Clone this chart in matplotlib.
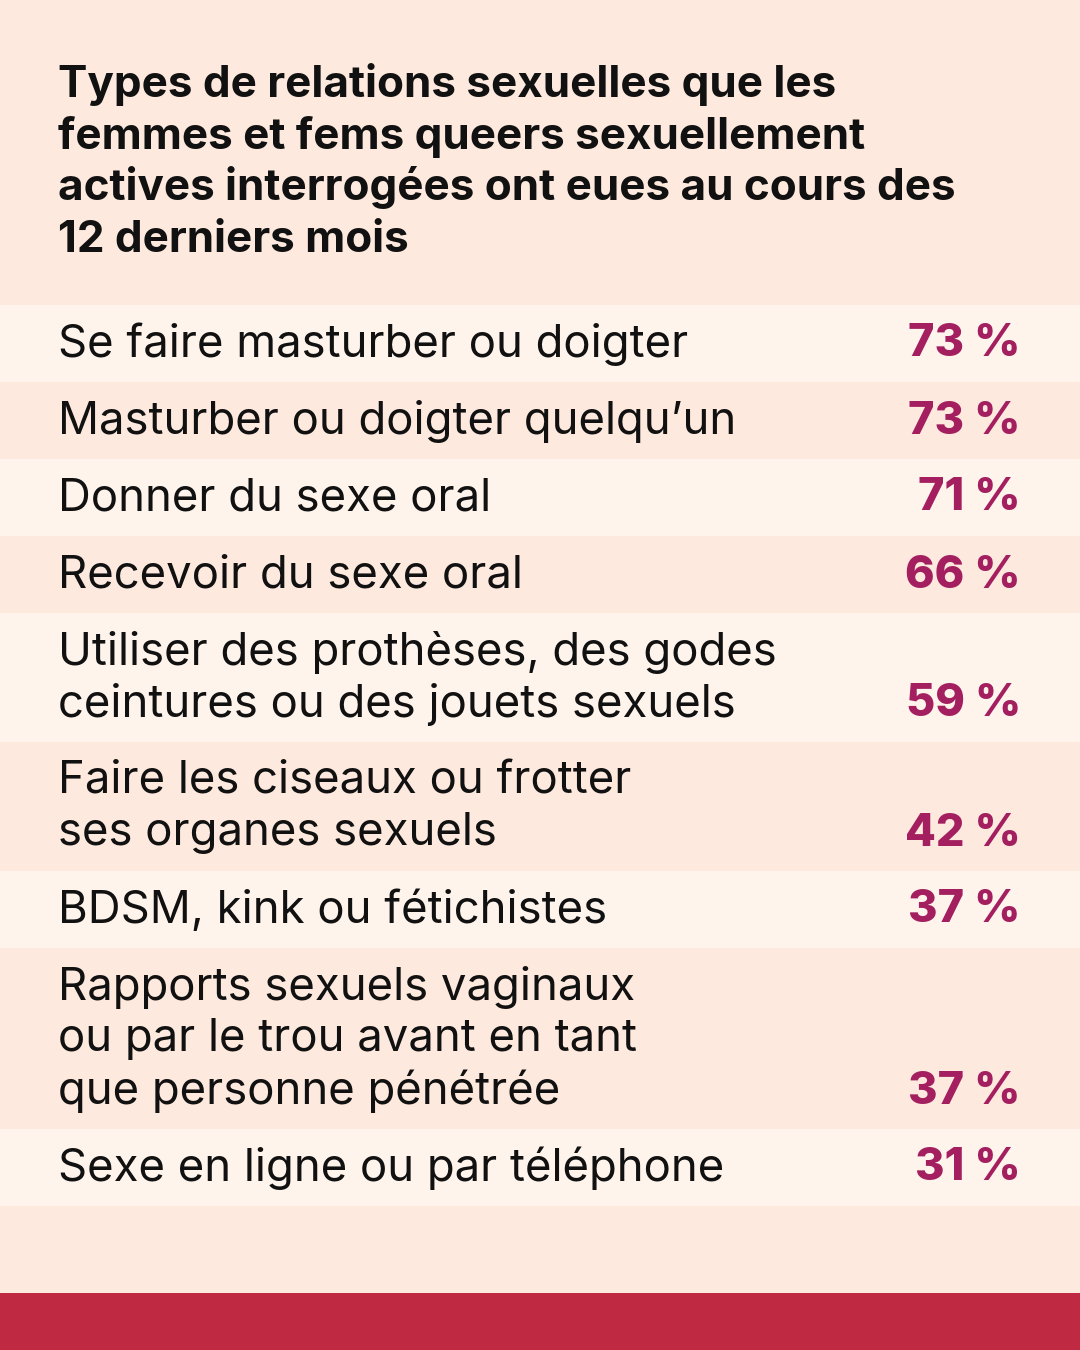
import matplotlib.pyplot as plt

plt.rcParams['font.family'] = ['Inter', 'DejaVu Sans']

title_lines = [
    "Types de relations sexuelles que les",
    "femmes et fems queers sexuellement",
    "actives interrogées ont eues au cours des",
    "12 derniers mois",
]

labels = [
    "Se faire masturber ou doigter",
    "Masturber ou doigter quelqu’un",
    "Donner du sexe oral",
    "Recevoir du sexe oral",
    "Utiliser des prothèses, des godes\nceintures ou des jouets sexuels",
    "Faire les ciseaux ou frotter\nses organes sexuels",
    "BDSM, kink ou fétichistes",
    "Rapports sexuels vaginaux\nou par le trou avant en tant\nque personne pénétrée",
    "Sexe en ligne ou par téléphone",
]
values = [73, 73, 71, 66, 59, 42, 37, 37, 31]

bg = '#fde9dd'
light = '#fff4ec'
accent = '#a31f5f'
band = '#c02942'

W, H = 1080, 1350
fig = plt.figure(figsize=(W / 100, H / 100), dpi=100, facecolor=bg)
ax = fig.add_axes([0, 0, 1, 1])
ax.set_xlim(0, W)
ax.set_ylim(H, 0)
ax.axis('off')
ax.set_facecolor(bg)

px = 72 / 100  # pixel -> point

# title, one line at a time
for k, ln in enumerate(title_lines):
    ax.text(58, 97 + k * 51.5, ln, ha='left', va='baseline',
            fontsize=44 * px, fontweight='bold', color='#111111')

# rows
top = 305
line_h = 52
base_h = 77
for i, (lab, val) in enumerate(zip(labels, values)):
    lines = lab.split('\n')
    h = base_h + line_h * (len(lines) - 1)
    c = top + h / 2
    ax.barh(c, W, height=h, left=0, color=light if i % 2 == 0 else bg,
            edgecolor='none')
    first = c - line_h * (len(lines) - 1) / 2
    for j, ln in enumerate(lines):
        ax.text(58, first + j * line_h + 1, ln, ha='left', va='center',
                fontsize=45.5 * px, color='#111111')
    ax.text(1021, first + (len(lines) - 1) * line_h + 1, f"{val} %",
            ha='right', va='center', fontsize=45 * px, fontweight='heavy',
            color=accent)
    top += h

# bottom band
ax.barh(1321.5, W, height=57, left=0, color=band, edgecolor='none')

fig.savefig('out.png', dpi=100, facecolor=bg)
